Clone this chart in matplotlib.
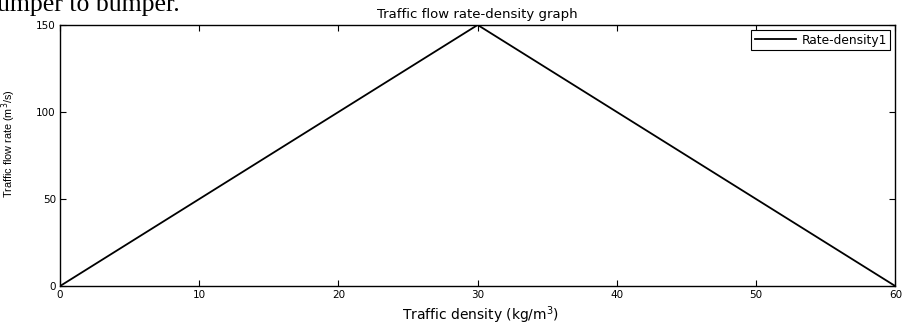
import matplotlib.pyplot as plt

# traffic density (kg/m^3) and flow rate (m^3/s)
density = [0, 30, 60]
flow_rate = [0, 150, 0]
x_ticks = [0, 10, 20, 30, 40, 50, 60]
y_ticks = [0, 50, 100, 150]

# the source image is stretched sideways, so the wide DejaVu face is used for horizontal text
plt.rcParams['font.family'] = ['DejaVu Sans']

fig = plt.figure(figsize=(9.05, 3.24), dpi=100)
ax = fig.add_axes([0.0663, 0.117, 0.923, 0.806])

ax.plot(density, flow_rate, color='black', linewidth=1.3, label='Rate-density1')
ax.set_xlim(0, 60)
ax.set_ylim(0, 150)
ax.set_xticks(x_ticks)
ax.set_yticks(y_ticks)
ax.tick_params(direction='in', length=4, width=0.8, top=True, right=True, labelsize=7.5, pad=3)
for s in ax.spines.values():
    s.set_linewidth(1.0)

ax.set_title('Traffic flow rate-density graph', fontsize=9.5, pad=5)
ax.set_xlabel('Traffic density (kg/m$^3$)', fontsize=10)
ax.xaxis.set_label_coords(0.5036, -0.069)
ax.set_ylabel('Traffic flow rate (m$^3$/s)', fontsize=7.8, family='Liberation Sans')
ax.yaxis.set_label_coords(-0.05, 0.544)

leg = ax.legend(loc='upper right', fontsize=8.8, fancybox=False, framealpha=1,
                edgecolor='black', handlelength=3.4, borderaxespad=0.4,
                borderpad=0.3, handletextpad=0.4)
leg.get_frame().set_linewidth(0.8)

# leftover line of body text above the figure
fig.text(-3 / 905, 1 - 11 / 324, 'umper to bumper.', family='Liberation Serif',
         fontsize=18.5, va='baseline', ha='left')

fig.savefig('out.png', dpi=100)
